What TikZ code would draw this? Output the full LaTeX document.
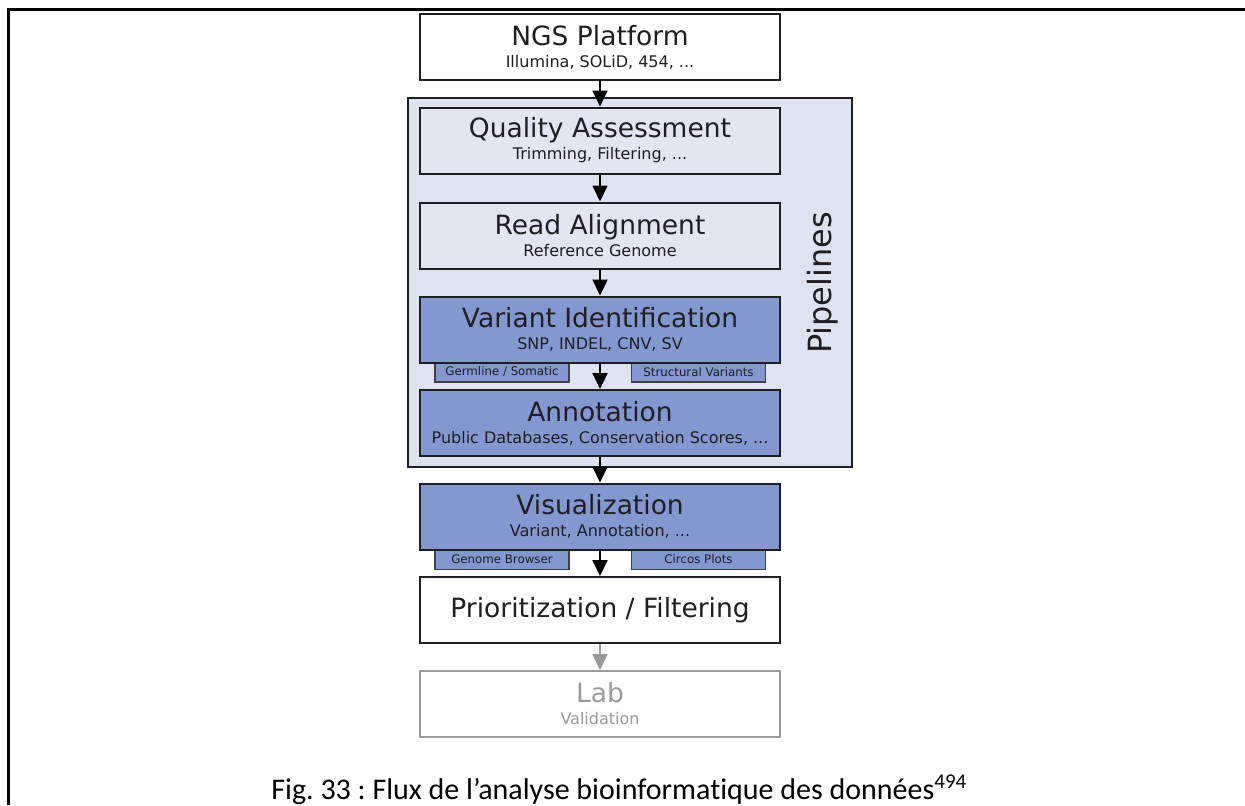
\documentclass[tikz,border=0pt]{standalone}
\usepackage{fontspec}
\setmainfont{DejaVu Sans}
\newfontfamily\captionfont[Ligatures=NoCommon]{Carlito}
\usetikzlibrary{arrows.meta}
\definecolor{pipebg}{HTML}{DDE3F0}
\definecolor{stepbg}{HTML}{E2E6F2}
\definecolor{varblue}{HTML}{8497CF}
\definecolor{edgegray}{HTML}{1E1E24}
\definecolor{labgray}{HTML}{9A9A9A}
\newcommand{\boxsub}[1]{{\fontsize{8}{11}\selectfont #1}}
\frenchspacing
\tikzset{
	box/.style={draw=edgegray, line width=1pt, minimum width=180pt, minimum height=33pt, inner sep=0pt, align=center, text=edgegray, font=\fontsize{13.25}{11}\selectfont},
	tab/.style={draw=edgegray!85, line width=0.6pt, fill=varblue, minimum width=67pt, minimum height=10pt, inner sep=0pt, text=edgegray, font=\fontsize{5.9}{7}\selectfont},
	flow/.style={line width=1pt, -{Triangle[width=7.5pt,length=8pt]}},
}

\begin{document}
\begin{tikzpicture}[x=0.5pt, y=-0.5pt]
		%%%%% START %%%%%
		\useasboundingbox (0, 0) rectangle (1245, 805);
		
		% frame of the page
		\draw[line width=1.5pt] (8, 805) -- (8, 9) -- (1245, 9);
		
		% pipeline block
		\node[draw=edgegray, line width=1.2pt, fill=pipebg, minimum width=222pt, minimum height=184.5pt, inner sep=0pt] (pipe) at (630, 282.5) {};
		\node[rotate=90, font=\fontsize{16}{18}\selectfont, text=edgegray] (pipelabel) at (823, 283) {Pipelines};
		
		% small tabs below the blue boxes
		\node[tab] (germ) at (502, 372) {Germline / Somatic};
		\node[tab] (struct) at (698.5, 372) {Structural Variants};
		\node[tab] (browser) at (502, 559.5) {Genome Browser};
		\node[tab] (circos) at (698.5, 559.5) {Circos Plots};
		
		% steps
		\node[box, fill=white] (ngs) at (600, 47) {NGS Platform\\\boxsub{Illumina, SOLiD, 454, ...}};
		\node[box, fill=stepbg] (qa) at (600, 140.5) {Quality Assessment\\\boxsub{Trimming, Filtering, ...}};
		\node[box, fill=stepbg] (align) at (600, 235.5) {Read Alignment\\\boxsub{Reference Genome}};
		\node[box, fill=varblue] (varid) at (600, 329.5) {Variant Identification\\\boxsub{SNP, INDEL, CNV, SV}};
		\node[box, fill=varblue] (annot) at (600, 423) {Annotation\\\boxsub{Public Databases, Conservation Scores, ...}};
		\node[box, fill=varblue] (visu) at (600, 516.5) {Visualization\\\boxsub{Variant, Annotation, ...}};
		\node[box, fill=white] (prio) at (600, 610) {Prioritization / Filtering};
		\node[box, fill=white, draw=labgray, text=labgray] (lab) at (600, 704) {Lab\\\boxsub{Validation}};
		
		% arrows
		\draw[flow] (ngs) -- (qa);
		\draw[flow] (qa) -- (align);
		\draw[flow] (align) -- (varid);
		\draw[flow] (varid) -- (annot);
		\draw[flow] (annot) -- (visu);
		\draw[flow] (visu) -- (prio);
		\draw[flow, draw=labgray, fill=labgray] (prio) -- (lab);
		
		% caption
		\node[anchor=base west, inner sep=0pt, font=\captionfont\fontsize{15}{17}\selectfont] (caption) at (271, 799) {Fig. 33 : Flux de l’analyse bioinformatique des données\textsuperscript{494}};
		%%%%% END %%%%%
\end{tikzpicture}
\end{document}
